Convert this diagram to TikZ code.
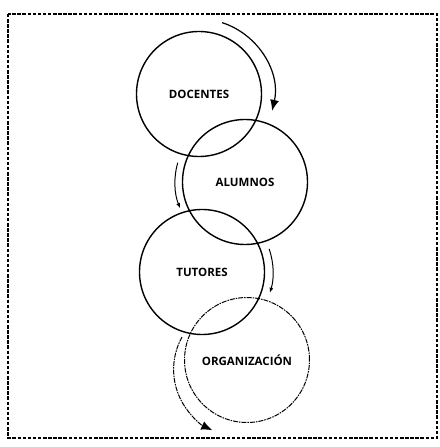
\documentclass[tikz,border=0pt]{standalone}
\usepackage{fontspec}
\setmainfont{Open Sans}
\usetikzlibrary{arrows.meta}
\begin{document}
\begin{tikzpicture}[x=1pt,y=1pt]
\tikzstyle{every node}+=[inner sep=0pt]
\tikzstyle{ring}=[draw,circle,line width=1.4pt,minimum size=125pt,font=\fontsize{11.5}{13}\selectfont\bfseries]
\tikzstyle{faint}=[dash pattern=on 5pt off 1pt on 1.5pt off 1pt,line width=1pt]
\tikzstyle{bigflow}=[line width=1.2pt,-{Latex[length=11pt,width=9pt]}]
\tikzstyle{smallflow}=[line width=1pt,-{Latex[length=5pt,width=4pt]}]
\useasboundingbox (0,0) rectangle (439,447);
\draw [line width=1.5pt,dash pattern=on 3.5pt off 1.6pt] (8,433) rectangle (437,9);
\node [ring] (doc) at (199,353) {DOCENTES};
\node [ring] (alu) at (245,265) {ALUMNOS};
\node [ring] (tut) at (202,175) {TUTORES};
\node [ring,faint] (org) at (247,87) {ORGANIZACIÓN};
\draw [bigflow] ([shift={(72:75)}]doc.center) arc [start angle=72,end angle=-13,radius=75];
\draw [smallflow] ([shift={(164:70)}]alu.center) arc [start angle=164,end angle=202,radius=70];
\draw [smallflow] ([shift={(19:71)}]tut.center) arc [start angle=19,end angle=-17,radius=71];
\draw [bigflow,faint] ([shift={(-65,23)}]org.center) arc [start angle=151,end angle=245,radius=67];
\end{tikzpicture}
\end{document}
